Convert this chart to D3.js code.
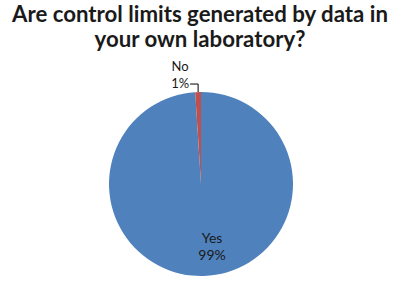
<!DOCTYPE html>
<html>
<head>
<meta charset="utf-8">
<script src="https://cdn.jsdelivr.net/npm/d3@7"></script>
<style>
	body { margin: 0; background: #fff; }
	svg { display: block; }
</style>
</head>
<body>
<div id="chartDiv"></div>
<script>
;(function() {

	var width = 400;
	var height = 282;

	var titleLines = ["Are control limits generated by data in", "your own laboratory?"];
	var categories = ["Yes", "No"];
	var values = [99, 1];
	var percentLabels = ["99%", "1%"];
	var colors = ["#4F81BD", "#C0504D"];

	var center = { x: 201, y: 184 };
	var radius = 92;

	var chart = d3.select("#chartDiv").append("svg")
		.attr("width", width)
		.attr("height", height);

	// title, fitted to the width of the original
	var title = chart.append("g")
		.style("font-family", "Lato, 'Open Sans', sans-serif")
		.style("font-weight", "bold")
		.style("fill", "#1a1a1a");

	var line1 = title.append("text")
		.attr("x", 200)
		.attr("y", 22)
		.attr("text-anchor", "middle")
		.style("font-size", "20px")
		.text(titleLines[0]);

	var w = line1.node().getComputedTextLength();
	var fontSize = 20 * 376 / w;
	line1.style("font-size", fontSize + "px");

	title.append("text")
		.attr("x", 200)
		.attr("y", 47)
		.attr("text-anchor", "middle")
		.style("font-size", fontSize + "px")
		.text(titleLines[1]);

	var data = categories.map(function(c, i) {
		return { name: c, value: values[i], label: percentLabels[i], color: colors[i] };
	});

	var pie = d3.pie()
		.sort(null)
		.value(function(d) { return d.value; });

	var arcs = pie(data);

	var arc = d3.arc()
		.innerRadius(0)
		.outerRadius(radius);

	var plot = chart.append("g")
		.attr("transform", "translate(" + center.x + "," + center.y + ")");

	plot.selectAll(".slice")
		.data(arcs)
		.enter().append("path")
			.attr("class", "slice")
			.attr("d", arc)
			.style("fill", function(d) { return d.data.color; });

	// inside label for the big slice
	var innerArc = d3.arc()
		.innerRadius(radius * 0.7)
		.outerRadius(radius * 0.7);

	var labelStyle = function(sel) {
		sel.style("font-family", "Lato, 'Open Sans', sans-serif")
			.style("font-size", "13px")
			.style("fill", "#1a1a1a")
			.attr("text-anchor", "middle");
	};

	var yes = arcs[0];
	var pYes = innerArc.centroid(yes);
	var yesText = plot.append("text")
		.call(labelStyle)
		.style("font-size", "14px")
		.attr("transform", "translate(" + (pYes[0] + 9) + "," + (pYes[1] - 5) + ")");
	yesText.append("tspan").attr("x", 0).attr("y", 0).text(yes.data.name);
	yesText.append("tspan").attr("x", 0).attr("y", 17).text(yes.data.label);

	// outside label with leader for the small slice
	var no = arcs[1];
	var mid = (no.startAngle + no.endAngle) / 2;
	var edge = [Math.sin(mid) * radius, -Math.cos(mid) * radius];
	var elbow = [edge[0], edge[1] - 8];
	var tail = [elbow[0] - 8, elbow[1]];

	plot.append("polyline")
		.attr("points", [edge, elbow, tail].map(function(p) { return p.join(","); }).join(" "))
		.style("fill", "none")
		.style("stroke", "#000")
		.style("stroke-width", 1);

	var noText = plot.append("text")
		.call(labelStyle)
		.attr("transform", "translate(" + (tail[0] - 10) + "," + tail[1] + ")");
	noText.append("tspan").attr("x", 0).attr("y", -13).text(no.data.name);
	noText.append("tspan").attr("x", 0).attr("y", 4).text(no.data.label);

})();
</script>
</body>
</html>
